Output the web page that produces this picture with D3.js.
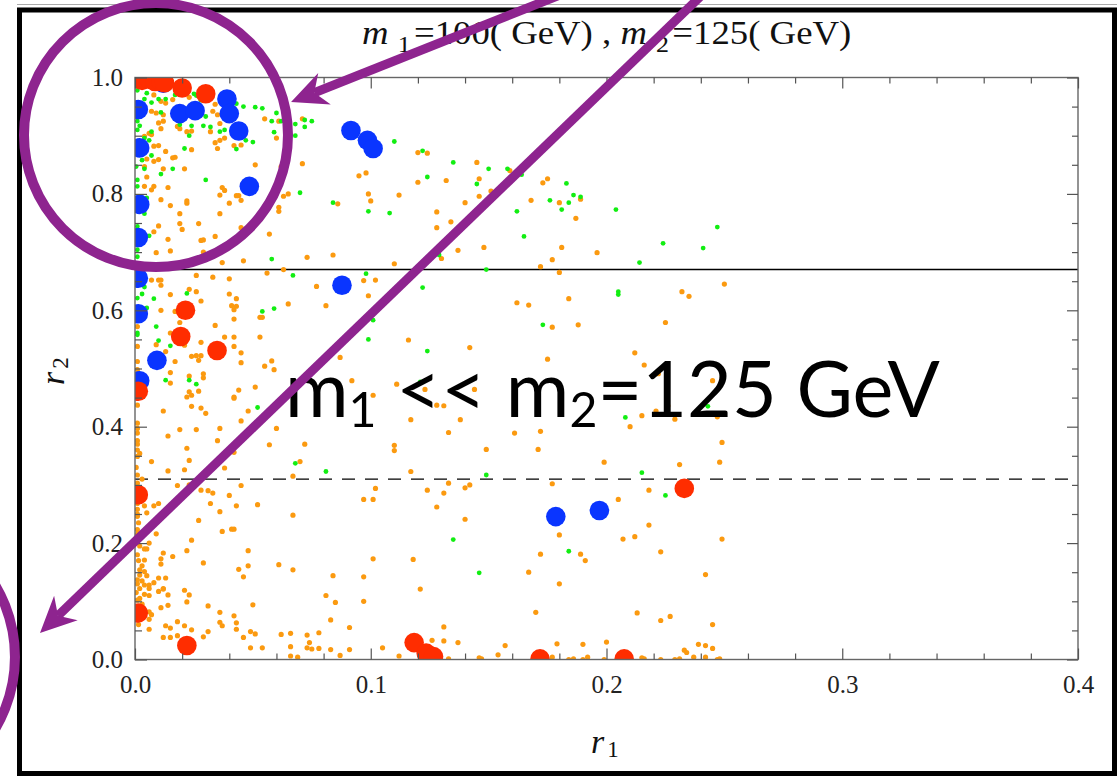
<!DOCTYPE html>
<html><head><meta charset="utf-8">
<script src="https://cdn.jsdelivr.net/npm/d3@7"></script>
<style>body{margin:0;background:#fff}svg{display:block}text{white-space:pre}</style>
</head><body><svg id="c" width="1117" height="776"></svg>
<script>
// ---------- data ----------
const xTickValues=[0,0.1,0.2,0.3,0.4];
const xTickLabels=["0.0","0.1","0.2","0.3","0.4"];
const yTickValues=[0,0.2,0.4,0.6,0.8,1.0];
const yTickLabels=["0.0","0.2","0.4","0.6","0.8","1.0"];
const solidLineR2=0.670;
const dashedLineR2=0.310;

const orangePoints=[
[0.008,0.970],[0.011,0.959],[0.013,0.956],[0.016,0.962],[0.023,0.966],[0.034,0.954],[0.007,0.942],[0.009,0.939],[0.012,0.936],[0.033,0.942],[0.035,0.936],[0.010,0.922],[0.012,0.925],[0.011,0.912],[0.018,0.916],[0.019,0.912],[0.022,0.907],[0.024,0.908],[0.032,0.907],[0.036,0.921],[0.055,0.929],[0.061,0.925],[0.071,0.929],[0.060,0.896],[0.006,0.904],[0.007,0.902],[0.034,0.888],[0.036,0.892],[0.038,0.896],[0.035,0.878],[0.042,0.883],[0.045,0.884],[0.024,0.876],[0.013,0.873],[0.010,0.883],[0.008,0.882],[0.004,0.899],[0.017,0.863],[0.016,0.862],[0.010,0.859],[0.008,0.856],[0.005,0.860],[0.004,0.847],[0.012,0.843],[0.021,0.843],[0.051,0.850],[0.071,0.852],[0.062,0.847],[0.005,0.829],[0.004,0.813],[0.008,0.813],[0.014,0.811],[0.037,0.811],[0.038,0.806],[0.095,0.831],[0.098,0.836],[0.007,0.807],[0.011,0.790],[0.015,0.780],[0.022,0.784],[0.022,0.788],[0.036,0.798],[0.043,0.797],[0.044,0.797],[0.045,0.789],[0.040,0.784],[0.065,0.800],[0.063,0.796],[0.099,0.800],[0.100,0.788],[0.086,0.783],[0.019,0.766],[0.036,0.766],[0.061,0.777],[0.061,0.770],[0.004,0.779],[0.010,0.745],[0.008,0.735],[0.019,0.749],[0.027,0.749],[0.020,0.739],[0.034,0.727],[0.045,0.742],[0.057,0.731],[0.014,0.722],[0.029,0.721],[0.028,0.720],[0.015,0.702],[0.073,0.691],[0.084,0.695],[0.009,0.699],[0.029,0.700],[0.037,0.682],[0.046,0.685],
[0.120,0.871],[0.124,0.870],[0.145,0.854],[0.159,0.840],[0.146,0.826],[0.132,0.823],[0.120,0.820],[0.175,0.826],[0.173,0.819],[0.112,0.798],[0.146,0.796],[0.151,0.805],[0.140,0.785],[0.168,0.789],[0.180,0.785],[0.189,0.791],[0.128,0.769],[0.134,0.752],[0.128,0.742],[0.187,0.758],[0.137,0.703],[0.148,0.708],[0.181,0.708],[0.196,0.699],[0.130,0.689],[0.177,0.687],[0.110,0.680],
[0.007,0.652],[0.010,0.652],[0.011,0.652],[0.011,0.643],[0.026,0.660],[0.033,0.657],[0.040,0.654],[0.056,0.664],[0.063,0.670],[0.097,0.651],[0.102,0.652],[0.077,0.641],[0.099,0.625],[0.081,0.608],[0.015,0.627],[0.023,0.636],[0.026,0.632],[0.028,0.616],[0.040,0.628],[0.043,0.620],[0.041,0.608],[0.043,0.607],[0.042,0.601],[0.042,0.585],[0.011,0.600],[0.017,0.598],[0.053,0.588],[0.054,0.588],[0.065,0.611],[0.034,0.574],[0.019,0.579],[0.015,0.561],[0.009,0.541],[0.021,0.540],[0.038,0.554],[0.042,0.554],[0.028,0.545],[0.042,0.538],[0.045,0.527],[0.053,0.554],[0.013,0.529],[0.017,0.512],[0.024,0.521],[0.026,0.522],[0.028,0.522],[0.027,0.514],[0.045,0.510],[0.087,0.519],[0.058,0.513],[0.055,0.504],[0.059,0.498],[0.015,0.493],[0.023,0.487],[0.029,0.491],[0.029,0.484],[0.015,0.475],[0.023,0.460],[0.027,0.461],[0.024,0.454],[0.022,0.451],[0.051,0.468],[0.044,0.463],[0.042,0.451],[0.042,0.449],[0.092,0.479],[0.101,0.454],[0.012,0.427],[0.024,0.435],[0.028,0.432],[0.030,0.423],[0.048,0.427],[0.045,0.410],[0.060,0.397],[0.036,0.397],[0.019,0.395],[0.026,0.395],[0.014,0.384],[0.035,0.376],[0.057,0.369],[0.072,0.370],[0.022,0.363],[0.023,0.342],[0.007,0.340],[0.042,0.356],[0.070,0.340],[0.002,0.354],[0.001,0.349],[0.001,0.389],[0.001,0.376],[0.001,0.397],[0.001,0.406],[0.001,0.572],[0.001,0.538],[0.001,0.512],[0.001,0.498],[0.001,0.451],[0.001,0.437],[0.001,0.370],[0.001,0.360],
[0.172,0.675],[0.180,0.665],[0.250,0.645],[0.232,0.632],[0.235,0.624],[0.162,0.613],[0.167,0.609],[0.184,0.620],[0.177,0.571],[0.188,0.575],[0.225,0.579],[0.116,0.549],[0.142,0.536],[0.175,0.516],[0.212,0.527],[0.216,0.506],[0.222,0.491],[0.111,0.473],[0.123,0.464],[0.144,0.464],[0.245,0.479],[0.128,0.437],[0.131,0.436],[0.226,0.436],[0.221,0.427],[0.215,0.419],[0.229,0.413],[0.247,0.417],[0.210,0.400],[0.117,0.412],[0.138,0.412],[0.133,0.390],[0.161,0.389],[0.172,0.392],[0.110,0.368],[0.110,0.359],[0.149,0.361],[0.171,0.361],[0.249,0.373],[0.199,0.339],[0.231,0.335],[0.248,0.339],
[0.014,0.324],[0.021,0.326],[0.038,0.329],[0.067,0.315],[0.001,0.317],[0.003,0.310],[0.001,0.303],[0.018,0.299],[0.023,0.300],[0.028,0.291],[0.031,0.290],[0.033,0.286],[0.040,0.282],[0.045,0.299],[0.003,0.279],[0.008,0.264],[0.010,0.268],[0.004,0.264],[0.005,0.252],[0.001,0.246],[0.001,0.258],[0.001,0.268],[0.032,0.268],[0.043,0.264],[0.052,0.266],[0.036,0.254],[0.067,0.248],[0.097,0.275],[0.101,0.275],[0.102,0.294],[0.027,0.239],[0.037,0.220],[0.041,0.224],[0.042,0.224],[0.009,0.216],[0.001,0.223],[0.024,0.205],[0.006,0.200],[0.004,0.190],[0.005,0.190],[0.001,0.205],[0.022,0.187],[0.012,0.183],[0.016,0.177],[0.004,0.171],[0.011,0.164],[0.011,0.173],[0.003,0.161],[0.029,0.166],[0.048,0.187],[0.048,0.161],[0.044,0.155],[0.046,0.142],[0.061,0.163],[0.067,0.154],[0.101,0.173],[0.084,0.144],[0.097,0.142],[0.002,0.154],[0.004,0.151],[0.005,0.144],[0.010,0.140],[0.013,0.140],[0.001,0.137],[0.004,0.128],[0.006,0.128],[0.008,0.132],[0.002,0.122],[0.006,0.122],[0.012,0.121],[0.012,0.122],[0.010,0.117],[0.014,0.111],[0.021,0.119],[0.023,0.111],[0.004,0.112],[0.006,0.110],[0.001,0.102],[0.011,0.089],[0.014,0.093],[0.022,0.099],[0.031,0.092],[0.050,0.094],[0.081,0.110],[0.085,0.098],[0.097,0.100],[0.006,0.082],[0.007,0.077],[0.006,0.069],[0.002,0.074],[0.036,0.081],[0.042,0.075],[0.036,0.064],[0.037,0.058],[0.043,0.063],[0.083,0.068],[0.091,0.055],[0.018,0.065],[0.015,0.054],[0.006,0.052],[0.013,0.058],[0.021,0.058],[0.024,0.051],[0.031,0.048],[0.029,0.039],[0.012,0.038],[0.015,0.038],[0.018,0.041],[0.043,0.052],[0.046,0.038],[0.049,0.048],[0.051,0.044],[0.062,0.043],[0.066,0.045],[0.073,0.042],[0.078,0.046],[0.074,0.029],[0.049,0.020],[0.054,0.020],[0.066,0.022],[0.073,0.020],[0.075,0.018],[0.078,0.019],[0.083,0.017],[0.091,0.017],[0.105,0.020],[0.066,0.006],[0.069,0.004],[0.087,0.007],
[0.0005,0.330],[0.001,0.295],[0.0005,0.285],[0.001,0.250],[0.0015,0.235],[0.001,0.215],[0.002,0.195],[0.001,0.180],[0.0015,0.170],[0.002,0.145],[0.001,0.130],[0.0005,0.115],[0.002,0.105],[0.001,0.090],[0.0015,0.060],[0.003,0.095],[0.003,0.135],
[0.117,0.323],[0.133,0.303],[0.142,0.300],[0.140,0.295],[0.124,0.291],[0.131,0.286],[0.177,0.302],[0.218,0.291],[0.205,0.275],[0.128,0.262],[0.140,0.241],[0.218,0.231],[0.180,0.214],[0.207,0.207],[0.212,0.211],[0.249,0.207],[0.118,0.172],[0.172,0.181],[0.189,0.181],[0.191,0.170],[0.223,0.185],[0.167,0.150],[0.180,0.130],[0.242,0.146],[0.121,0.121],[0.170,0.081],[0.213,0.080],[0.223,0.067],[0.227,0.074],[0.245,0.060],[0.131,0.056],[0.126,0.033],[0.131,0.032],[0.137,0.029],[0.112,0.006],[0.157,0.024],[0.179,0.027],[0.190,0.026],[0.200,0.030],[0.239,0.026],[0.242,0.024],[0.245,0.019],[0.233,0.016],[0.234,0.012],[0.154,0.008],[0.133,0.001],[0.146,0.003],[0.147,0.001],[0.177,0.004],[0.184,0.000],[0.186,0.001],[0.190,0.000],[0.192,0.004],[0.199,0.000],[0.215,0.003],[0.216,0.001],[0.223,0.000],[0.229,0.000],[0.231,0.001],[0.237,0.004],[0.242,0.004],[0.247,0.000],[0.248,0.001]
];

const greenPoints=[
[0.001,0.978],[0.004,0.963],[0.005,0.973],[0.010,0.963],[0.013,0.963],[0.017,0.970],[0.025,0.972],[0.026,0.969],[0.028,0.961],[0.001,0.953],[0.004,0.947],[0.007,0.957],[0.011,0.940],[0.043,0.955],[0.046,0.950],[0.051,0.949],[0.054,0.947],[0.060,0.939],[0.030,0.933],[0.001,0.925],[0.002,0.917],[0.019,0.919],[0.024,0.917],[0.029,0.917],[0.032,0.915],[0.036,0.907],[0.038,0.910],[0.058,0.925],[0.062,0.925],[0.068,0.920],[0.072,0.927],[0.075,0.925],[0.072,0.915],[0.059,0.906],[0.068,0.900],[0.023,0.900],[0.007,0.907],[0.001,0.910],[0.006,0.892],[0.004,0.896],[0.047,0.892],[0.050,0.889],[0.043,0.877],[0.021,0.878],[0.007,0.866],[0.003,0.858],[0.004,0.843],[0.0005,0.847],[0.030,0.824],[0.001,0.824],[0.001,0.813],[0.011,0.834],[0.016,0.843],[0.005,0.793],[0.070,0.802],[0.084,0.785],[0.099,0.770],[0.004,0.766],[0.001,0.744],[0.006,0.728],[0.001,0.704],[0.058,0.688],[0.001,0.692],
[0.004,0.640],[0.003,0.628],[0.001,0.621],[0.008,0.620],[0.005,0.604],[0.022,0.629],[0.054,0.598],[0.059,0.603],[0.067,0.660],[0.098,0.663],[0.101,0.583],[0.099,0.550],[0.009,0.572],[0.001,0.561],[0.010,0.548],[0.015,0.539],[0.001,0.558],[0.013,0.480],[0.023,0.480],[0.026,0.473],[0.052,0.433],[0.068,0.337],
[0.081,0.323],
[0.110,0.890],[0.122,0.874],[0.124,0.829],[0.135,0.854],[0.150,0.843],[0.158,0.843],[0.164,0.833],[0.145,0.817],[0.108,0.767],[0.162,0.770],[0.165,0.727],[0.176,0.789],[0.183,0.818],[0.186,0.798],[0.189,0.795],[0.184,0.785],[0.181,0.773],[0.204,0.773],[0.247,0.743],[0.224,0.715],[0.241,0.707],[0.214,0.682],[0.129,0.695],
[0.149,0.670],[0.122,0.639],[0.205,0.632],[0.205,0.627],[0.173,0.575],[0.124,0.530],[0.121,0.477],[0.208,0.416],[0.243,0.435],
[0.149,0.317],[0.215,0.321],[0.225,0.282],[0.135,0.206],[0.184,0.186],[0.146,0.149]
];

const bluePoints=[
[0.012,0.990],[0.0014,0.945],[0.019,0.938],[0.0255,0.943],[0.039,0.963],[0.040,0.938],[0.044,0.908],[0.002,0.879],[0.0485,0.813],[0.002,0.782],[0.0014,0.725],[0.0916,0.909],[0.0986,0.892],[0.101,0.878],
[0.0014,0.655],[0.0014,0.594],[0.0093,0.514],[0.002,0.479],[0.0878,0.643],[0.1785,0.2455],[0.197,0.256]
];

const redPoints=[
[0.0005,0.998],[0.003,0.995],[0.006,0.997],[0.0085,0.993],[0.011,0.994],[0.0125,0.991],[0.020,0.982],[0.030,0.972],
[0.0214,0.600],[0.0194,0.555],[0.0348,0.531],[0.0014,0.461],[0.0014,0.283],[0.0014,0.080],[0.022,0.024],
[0.233,0.294],[0.1184,0.029],[0.1235,0.011],[0.1266,0.005],[0.1718,0.001],[0.2075,0.001]
];

// annotation anchors (in data units)
const circleTopCenter=[0.0089,0.901];
const circleBottomCenter=[-0.1103,0.0043];
const arrowTopFrom=[0.1803,1.1418], arrowTopTo=[0.0662,0.9579];
const arrowLongFrom=[0.2405,1.1418], arrowLongTo=[-0.0403,0.0455];

// ---------- drawing ----------
const svg=d3.select("#c");
const M={left:135,right:1078,top:77.5,bottom:659.5};
const x=d3.scaleLinear().domain([0,0.4]).range([M.left,M.right]);
const y=d3.scaleLinear().domain([0,1]).range([M.bottom,M.top]);
const SERIF="'Liberation Serif','Times New Roman',serif";

svg.append("rect").attr("width",1117).attr("height",776).attr("fill","#fff");
// outer frame
svg.append("line").attr("x1",17).attr("x2",1117).attr("y1",4.5).attr("y2",4.5).attr("stroke","#aaa").attr("stroke-width",1);
svg.append("rect").attr("x",19.5).attr("y",10).attr("width",1095).attr("height",763.5)
  .attr("fill","none").attr("stroke","#000").attr("stroke-width",5);

svg.append("clipPath").attr("id","pc").append("rect")
  .attr("x",M.left).attr("y",M.top).attr("width",M.right-M.left).attr("height",M.bottom-M.top);

const g=svg.append("g").attr("clip-path","url(#pc)");
g.append("line").attr("x1",x(0)).attr("x2",x(0.4)).attr("y1",y(solidLineR2)).attr("y2",y(solidLineR2))
  .attr("stroke","#000").attr("stroke-width",1.4);
g.append("line").attr("x1",x(0)).attr("x2",x(0.4)).attr("y1",y(dashedLineR2)).attr("y2",y(dashedLineR2))
  .attr("stroke","#000").attr("stroke-width",1.4).attr("stroke-dasharray","13,10");

g.append("g").selectAll("circle").data(orangePoints).join("circle")
  .attr("cx",d=>x(d[0])).attr("cy",d=>y(d[1])).attr("r",2.6).attr("fill","#fb9a10");
g.append("g").selectAll("circle").data(greenPoints).join("circle")
  .attr("cx",d=>x(d[0])).attr("cy",d=>y(d[1])).attr("r",2.4).attr("fill","#12ee12");
g.append("g").selectAll("circle").data(bluePoints).join("circle")
  .attr("cx",d=>x(d[0])).attr("cy",d=>y(d[1])).attr("r",9.8).attr("fill","#0a35ff");
g.append("g").selectAll("circle").data(redPoints).join("circle")
  .attr("cx",d=>x(d[0])).attr("cy",d=>y(d[1])).attr("r",9.8).attr("fill","#ff2d00");

// plot frame
svg.append("rect").attr("x",M.left).attr("y",M.top).attr("width",M.right-M.left).attr("height",M.bottom-M.top)
  .attr("fill","none").attr("stroke","#666").attr("stroke-width",1.4);

function styleAxis(sel){
  sel.select(".domain").remove();
  sel.selectAll("line").attr("stroke","#555").attr("stroke-width",1.2);
  sel.selectAll("text").attr("font-family",SERIF).attr("font-size",25).attr("fill","#222");
}
const xMinor=d3.range(1,20).map(i=>i*0.02).filter(v=>Math.abs(v*10-Math.round(v*10))>1e-6);
const yMinor=d3.range(1,20).map(i=>i*0.05).filter(v=>Math.abs(v*5-Math.round(v*5))>1e-6);

svg.append("g").attr("transform",`translate(0,${M.bottom})`)
  .call(d3.axisBottom(x).tickValues(xTickValues).tickFormat((d,i)=>xTickLabels[i]).tickSizeInner(-11).tickSizeOuter(0).tickPadding(15.5)).call(styleAxis);
svg.append("g").attr("transform",`translate(0,${M.bottom})`)
  .call(d3.axisBottom(x).tickValues(xMinor).tickFormat("").tickSizeInner(-6).tickSizeOuter(0)).call(styleAxis);
svg.append("g").attr("transform",`translate(0,${M.top})`)
  .call(d3.axisTop(x).tickValues(xTickValues).tickFormat("").tickSizeInner(-11).tickSizeOuter(0)).call(styleAxis);
svg.append("g").attr("transform",`translate(0,${M.top})`)
  .call(d3.axisTop(x).tickValues(xMinor).tickFormat("").tickSizeInner(-6).tickSizeOuter(0)).call(styleAxis);
svg.append("g").attr("transform",`translate(${M.left},0)`)
  .call(d3.axisLeft(y).tickValues(yTickValues).tickFormat((d,i)=>yTickLabels[i]).tickSizeInner(-12).tickSizeOuter(0).tickPadding(12)).call(styleAxis);
svg.append("g").attr("transform",`translate(${M.left},0)`)
  .call(d3.axisLeft(y).tickValues(yMinor).tickFormat("").tickSizeInner(-7).tickSizeOuter(0)).call(styleAxis);
svg.append("g").attr("transform",`translate(${M.right},0)`)
  .call(d3.axisRight(y).tickValues(yTickValues).tickFormat("").tickSizeInner(-11).tickSizeOuter(0)).call(styleAxis);
svg.append("g").attr("transform",`translate(${M.right},0)`)
  .call(d3.axisRight(y).tickValues(yMinor).tickFormat("").tickSizeInner(-6).tickSizeOuter(0)).call(styleAxis);

// title
const title=svg.append("text").attr("x",362).attr("y",44).attr("font-family",SERIF).attr("font-size",34).attr("fill","#111");
title.append("tspan").attr("font-style","italic").text("m ");
title.append("tspan").attr("font-size",24).attr("dy",8).text("1");
title.append("tspan").attr("dy",-8).attr("dx",3).text("=100( GeV) , ");
title.append("tspan").attr("font-style","italic").text("m ");
title.append("tspan").attr("font-size",24).attr("dy",8).text("2");
title.append("tspan").attr("dy",-8).attr("dx",3).text("=125( GeV)");
function fitWidth(sel,x0,target){
  const w=sel.node().getComputedTextLength();
  const s=target/w;
  if(s>0.8&&s<1.25) sel.attr("transform",`translate(${x0},0) scale(${s},1) translate(${-x0},0)`);
}
fitWidth(title,362,483);

// axis labels
const xl=svg.append("text").attr("x",591).attr("y",753).attr("font-family",SERIF).attr("font-size",34).attr("fill","#111");
xl.append("tspan").attr("font-style","italic").text("r");
xl.append("tspan").attr("font-size",23).attr("dy",4).attr("dx",3).text("1");
const yl=svg.append("text").attr("transform","translate(64,385) rotate(-90)").attr("font-family",SERIF).attr("font-size",34).attr("fill","#111");
yl.append("tspan").attr("font-style","italic").text("r");
yl.append("tspan").attr("font-size",23).attr("dy",4).attr("dx",3).text("2");

// big annotation text
const big=svg.append("text").attr("x",285).attr("y",417).attr("font-family","Lato,'Open Sans',sans-serif").attr("font-size",77).attr("fill","#000");
big.append("tspan").text("m");
big.append("tspan").attr("font-size",48).attr("dy",10).text("1");
big.append("tspan").attr("dy",-10).text(" << m");
big.append("tspan").attr("font-size",48).attr("dy",10).text("2");
big.append("tspan").attr("dy",-10).text("=125 GeV");
fitWidth(big,285,655);

// purple annotations
const P="#8e248f";
const ann=svg.append("g");
ann.append("circle").attr("cx",x(circleTopCenter[0])).attr("cy",y(circleTopCenter[1])).attr("r",132)
  .attr("fill","none").attr("stroke",P).attr("stroke-width",10);
ann.append("circle").attr("cx",x(circleBottomCenter[0])).attr("cy",y(circleBottomCenter[1])).attr("r",140)
  .attr("fill","none").attr("stroke",P).attr("stroke-width",10);
function arrow(from,to){
  const x0=x(from[0]),y0=y(from[1]),x1=x(to[0]),y1=y(to[1]);
  const dx=x0-x1,dy=y0-y1,L=Math.hypot(dx,dy),ux=dx/L,uy=dy/L,px=-uy,py=ux;
  const back=36,half=17,notch=25;
  const bx=x1+ux*back,by=y1+uy*back;
  ann.append("line").attr("x1",x0).attr("y1",y0).attr("x2",x1+ux*notch).attr("y2",y1+uy*notch)
    .attr("stroke",P).attr("stroke-width",9);
  ann.append("polygon").attr("points",[[x1,y1],[bx+px*half,by+py*half],[x1+ux*notch,y1+uy*notch],[bx-px*half,by-py*half]].map(p=>p.join(",")).join(" "))
    .attr("fill",P);
}
arrow(arrowTopFrom,arrowTopTo);
arrow(arrowLongFrom,arrowLongTo);
</script></body></html>
